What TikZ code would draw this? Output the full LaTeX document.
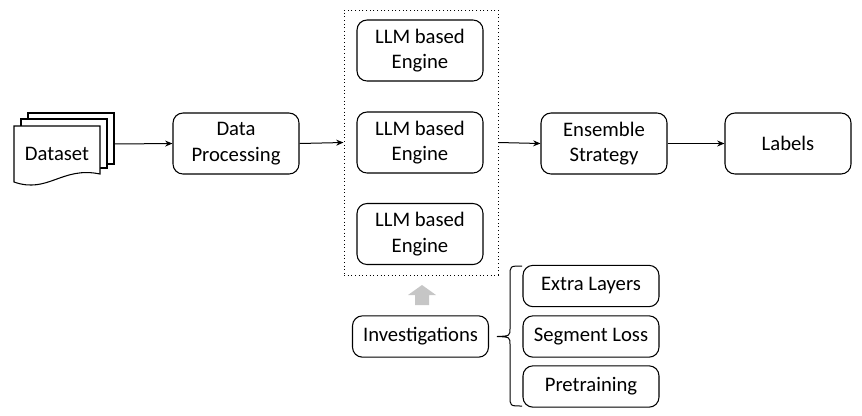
\documentclass[tikz,border=0pt]{standalone}
\usepackage{fontspec}
\setmainfont{Carlito}
\usetikzlibrary{arrows.meta}
\begin{document}
\begin{tikzpicture}[x=0.75pt,y=-0.75pt,
  box/.style={draw,line width=0.8pt,rounded corners=7.5pt,fill=white,align=center,
    minimum width=94.5pt,minimum height=45.75pt,inner sep=2pt,
    font=\fontsize{15.5}{19}\selectfont},
  sbox/.style={box,minimum width=102pt,minimum height=31pt},
  page/.style={draw,line width=0.8pt,fill=white},
  conn/.style={line width=0.75pt,-{Stealth[length=5.5pt,width=4.5pt]}}]
\useasboundingbox (0,0) rectangle (862,415);
% dataset pages
\draw[page] (28,113) rectangle (114,164);
\draw[page] (21,119) rectangle (107,168);
\draw[page] (14,126) -- (100,126) -- (100,174) .. controls (62,166) and (48,194) .. (14,182) -- cycle;
\node[font=\fontsize{15.5}{19}\selectfont] (ds) at (57,154) {Dataset};
\coordinate (dsout) at (114,144);
% boxes
\node[box] (dp) at (236,143.5) {Data\\Processing};
\node[draw,dotted,line width=0.75pt,minimum width=115.5pt,minimum height=198.75pt,inner sep=0pt] (cont) at (421,142.5) {};
\node[box] (l1) at (420,50.5) {LLM based\\Engine};
\node[box] (l2) at (420,142.5) {LLM based\\Engine};
\node[box] (l3) at (420,234) {LLM based\\Engine};
\node[box] (ens) at (604,143.5) {Ensemble\\Strategy};
\node[box] (lab) at (788,143.5) {Labels};
\node[sbox] (inv) at (420.5,336.5) {Investigations};
\node[sbox] (ex) at (591,286) {Extra Layers};
\node[sbox] (sl) at (591,336.5) {Segment Loss};
\node[sbox] (pt) at (591,386.5) {Pretraining};
% connectors
\draw[conn] (dsout) -- (dp.west);
\draw[conn] (dp.east) -- (cont.west);
\draw[conn] (cont.east) -- (ens.west);
\draw[conn] (ens.east) -- (lab.west);
% gray block arrow
\fill[gray!45] (415,305) -- (415,295) -- (408,295) -- (422,285) -- (436,295) -- (429,295) -- (429,305) -- cycle;
% brace
\draw[line width=0.75pt] (522,266) .. controls (510,266) .. (510,276) -- (510,328) .. controls (510,336) .. (497,336.5) .. controls (510,337) .. (510,345) -- (510,396) .. controls (510,406) .. (522,406);
\end{tikzpicture}
\end{document}
